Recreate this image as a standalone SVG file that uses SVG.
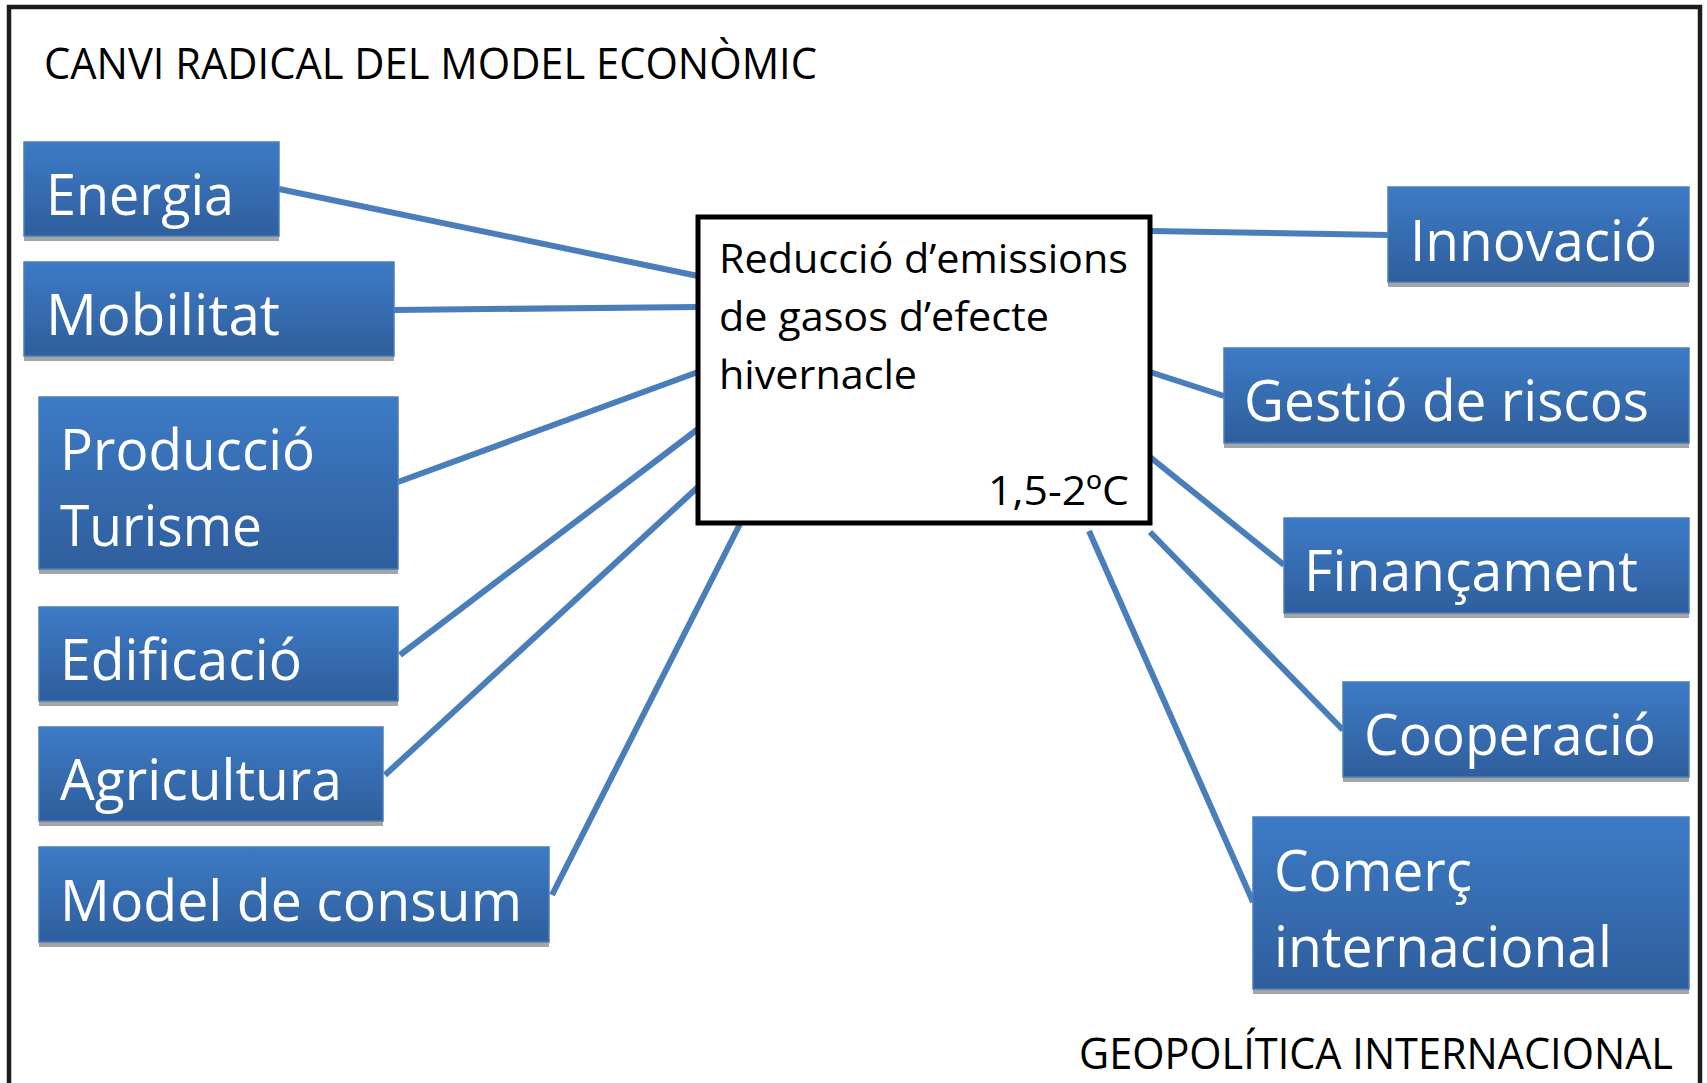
<svg xmlns="http://www.w3.org/2000/svg" width="1707" height="1083" viewBox="0 0 1707 1083">
<defs>
<linearGradient id="bg" x1="0" y1="0" x2="0" y2="1">
<stop offset="0" stop-color="#3d7bc6"/>
<stop offset="1" stop-color="#2f5e9c"/>
</linearGradient>
<style>
.box{fill:url(#bg);stroke:#4a7ebb;stroke-width:1.5}
.sh{fill:#a5a5a5}
.lbl{font-family:"Open Sans","Liberation Sans",sans-serif;font-size:56px;fill:#ffffff}
.blk{font-family:"Open Sans","Liberation Sans",sans-serif;fill:#000000}
.con line{stroke:#4a7ebb;stroke-width:6;stroke-linecap:butt}
</style>
</defs>
<rect x="0" y="0" width="1707" height="1083" fill="#ffffff"/>
<rect x="9" y="7" width="1691" height="1100" fill="none" stroke="#1f1c17" stroke-width="4.5"/>
<text class="blk" x="44" y="79" font-size="43" textLength="773" lengthAdjust="spacingAndGlyphs">CANVI RADICAL DEL MODEL ECONÒMIC</text>
<text class="blk" x="1079" y="1069" font-size="43" textLength="594" lengthAdjust="spacingAndGlyphs">GEOPOLÍTICA INTERNACIONAL</text>
<g id="connectors" class="con">
<line x1="279" y1="189" x2="698" y2="276"/>
<line x1="394" y1="310" x2="698" y2="307"/>
<line x1="398" y1="482" x2="698" y2="372"/>
<line x1="400" y1="655" x2="698" y2="429"/>
<line x1="385" y1="775" x2="698" y2="487"/>
<line x1="552" y1="895" x2="743" y2="518"/>
<line x1="1150" y1="231" x2="1388" y2="235"/>
<line x1="1150" y1="372" x2="1224" y2="396"/>
<line x1="1150" y1="457" x2="1284" y2="565"/>
<line x1="1150" y1="532" x2="1343" y2="730"/>
<line x1="1089" y1="531" x2="1253" y2="902"/>
</g>
<g id="center">
<rect x="698" y="217" width="452" height="306" fill="#ffffff" stroke="#000000" stroke-width="5"/>
<text class="blk" font-size="40" x="719" y="273" textLength="409" lengthAdjust="spacingAndGlyphs">Reducció d’emissions</text>
<text class="blk" font-size="40" x="719" y="331" textLength="330" lengthAdjust="spacingAndGlyphs">de gasos d’efecte</text>
<text class="blk" font-size="40" x="719" y="389" textLength="198" lengthAdjust="spacingAndGlyphs">hivernacle</text>
<text class="blk" font-size="41" x="988" y="505" textLength="141" lengthAdjust="spacingAndGlyphs">1,5-2ºC</text>
</g>
<g id="energia">
<rect class="sh" x="24" y="147" width="255" height="94"/>
<rect class="box" x="24" y="142" width="255" height="94"/>
<text class="lbl" x="46" y="215" textLength="188" lengthAdjust="spacingAndGlyphs">Energia</text>
</g>
<g id="mobilitat">
<rect class="sh" x="24" y="267" width="370" height="94"/>
<rect class="box" x="24" y="262" width="370" height="94"/>
<text class="lbl" x="46" y="335" textLength="234" lengthAdjust="spacingAndGlyphs">Mobilitat</text>
</g>
<g id="produccio-turisme">
<rect class="sh" x="39" y="402" width="359" height="172"/>
<rect class="box" x="39" y="397" width="359" height="172"/>
<text class="lbl" x="60" y="470" textLength="255" lengthAdjust="spacingAndGlyphs">Producció</text>
<text class="lbl" x="60" y="546" textLength="202" lengthAdjust="spacingAndGlyphs">Turisme</text>
</g>
<g id="edificacio">
<rect class="sh" x="39" y="612" width="359" height="94"/>
<rect class="box" x="39" y="607" width="359" height="94"/>
<text class="lbl" x="60" y="680" textLength="242" lengthAdjust="spacingAndGlyphs">Edificació</text>
</g>
<g id="agricultura">
<rect class="sh" x="39" y="732" width="344" height="94"/>
<rect class="box" x="39" y="727" width="344" height="94"/>
<text class="lbl" x="60" y="800" textLength="282" lengthAdjust="spacingAndGlyphs">Agricultura</text>
</g>
<g id="model-de-consum">
<rect class="sh" x="39" y="852" width="510" height="95"/>
<rect class="box" x="39" y="847" width="510" height="95"/>
<text class="lbl" x="60" y="921" textLength="462" lengthAdjust="spacingAndGlyphs">Model de consum</text>
</g>
<g id="innovacio">
<rect class="sh" x="1388" y="192" width="301" height="95"/>
<rect class="box" x="1388" y="187" width="301" height="95"/>
<text class="lbl" x="1410" y="261" textLength="247" lengthAdjust="spacingAndGlyphs">Innovació</text>
</g>
<g id="gestio-de-riscos">
<rect class="sh" x="1224" y="353" width="465" height="95"/>
<rect class="box" x="1224" y="348" width="465" height="95"/>
<text class="lbl" x="1244" y="421" textLength="405" lengthAdjust="spacingAndGlyphs">Gestió de riscos</text>
</g>
<g id="financament">
<rect class="sh" x="1284" y="523" width="405" height="95"/>
<rect class="box" x="1284" y="518" width="405" height="95"/>
<text class="lbl" x="1304" y="591" textLength="334" lengthAdjust="spacingAndGlyphs">Finançament</text>
</g>
<g id="cooperacio">
<rect class="sh" x="1343" y="687" width="346" height="95"/>
<rect class="box" x="1343" y="682" width="346" height="95"/>
<text class="lbl" x="1364" y="755" textLength="292" lengthAdjust="spacingAndGlyphs">Cooperació</text>
</g>
<g id="comerc-internacional">
<rect class="sh" x="1253" y="822" width="436" height="172"/>
<rect class="box" x="1253" y="817" width="436" height="172"/>
<text class="lbl" x="1274" y="891" textLength="198" lengthAdjust="spacingAndGlyphs">Comerç</text>
<text class="lbl" x="1274" y="967" textLength="338" lengthAdjust="spacingAndGlyphs">internacional</text>
</g>
</svg>
